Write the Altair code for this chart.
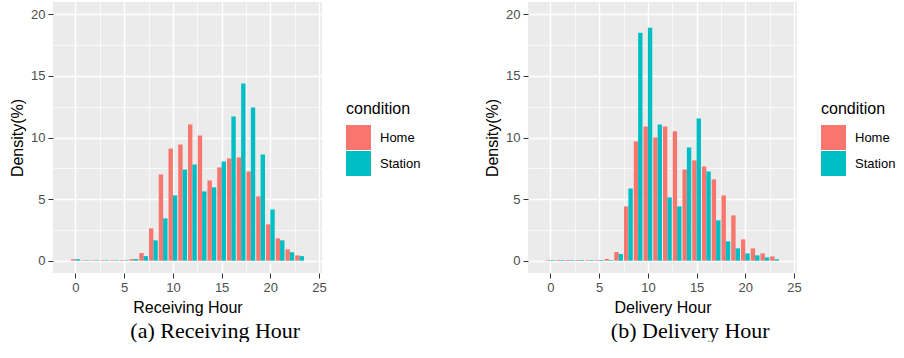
import altair as alt
import pandas as pd

hours = list(range(24))
conditions = ["Home", "Station"]
colors = ["#F8766D", "#00BFC4"]

receiving_home = [0.12, 0.04, 0.04, 0.04, 0.04, 0.04, 0.13, 0.62, 2.62, 7.0, 9.1, 9.43,
                  11.05, 10.16, 6.51, 7.57, 8.3, 8.38, 7.24, 5.22, 2.95, 1.81, 0.92, 0.43]
receiving_station = [0.12, 0.04, 0.04, 0.04, 0.04, 0.04, 0.13, 0.37, 1.65, 3.43, 5.3, 7.4,
                     7.81, 5.62, 5.95, 8.05, 11.7, 14.38, 12.43, 8.62, 4.16, 1.65, 0.68, 0.37]
delivery_home = [0.05, 0.05, 0.05, 0.05, 0.05, 0.05, 0.14, 0.7, 4.4, 9.68, 10.9, 10.0,
                 10.9, 10.5, 7.4, 8.14, 7.65, 6.6, 5.3, 3.68, 1.73, 1.0, 0.59, 0.35]
delivery_station = [0.05, 0.05, 0.05, 0.05, 0.05, 0.05, 0.05, 0.54, 5.86, 18.5, 18.9, 11.05,
                    5.14, 4.4, 9.19, 11.54, 7.24, 3.27, 1.57, 1.0, 0.59, 0.43, 0.27, 0.11]

x_ticks = [0, 2.5, 5, 7.5, 10, 12.5, 15, 17.5, 20, 22.5, 25]
y_ticks = [0, 2.5, 5, 7.5, 10, 12.5, 15, 17.5, 20]

major = "datum.value % 5 === 0"


def make_axis(values, title):
    return alt.Axis(
        values=values,
        title=title,
        labelExpr=f"{major} ? datum.label : ''",
        labelOverlap=False,
        gridWidth={"condition": {"test": major, "value": 1.4}, "value": 0.7},
        tickOpacity={"condition": {"test": major, "value": 1}, "value": 0},
    )


def panel(home, station, xtitle, caption):
    df = pd.DataFrame({
        "hour": hours + hours,
        "density": home + station,
        "condition": ["Home"] * len(hours) + ["Station"] * len(hours),
    })
    chart = alt.Chart(df).transform_calculate(
        x0="datum.hour + (datum.condition === 'Home' ? -0.45 : 0)",
        x1="datum.hour + (datum.condition === 'Home' ? 0 : 0.45)",
    ).mark_bar().encode(
        x=alt.X("x0:Q", scale=alt.Scale(domain=[-2.3, 25.3], nice=False, zero=False, padding=0),
                axis=make_axis(x_ticks, xtitle)),
        x2="x1:Q",
        y=alt.Y("density:Q", scale=alt.Scale(domain=[-1, 21], nice=False, padding=0),
                axis=make_axis(y_ticks, "Density(%)")),
        y2=alt.Y2(datum=0),
        color=alt.Color(
            "condition:N",
            scale=alt.Scale(domain=conditions, range=colors),
            legend=alt.Legend(
                title="condition", orient="none", legendX=293, legendY=99,
                symbolType="square", symbolSize=625, symbolStrokeWidth=0,
                symbolOpacity=1, labelOffset=9, rowPadding=1, titlePadding=8,
                titleFontSize=16, titleFontWeight="normal", titleColor="black",
                labelFontSize=13, labelColor="black",
                titleFont="Liberation Sans", labelFont="Liberation Sans",
            ),
        ),
    ).properties(
        width=269, height=271,
        title=alt.TitleParams(caption, orient="bottom", anchor="middle", frame="bounds",
                              font="Liberation Serif", fontSize=22, fontWeight="normal",
                              color="black", offset=6),
    )
    return chart


a = panel(receiving_home, receiving_station, "Receiving Hour", "(a) Receiving Hour")
b = panel(delivery_home, delivery_station, "Delivery Hour", "(b) Delivery Hour")

chart = alt.hconcat(a, b, spacing=63).resolve_scale(color="independent").resolve_legend(
    color="independent"
).properties(
    padding={"left": 9, "top": 2, "right": 0, "bottom": 0},
    background="white",
).configure_view(
    fill="#EBEBEB", strokeWidth=0
).configure_axis(
    domain=False, gridColor="white", tickColor="#333333", tickSize=5, tickWidth=1,
    labelColor="#4D4D4D", labelFontSize=13, labelFont="Liberation Sans", labelPadding=3,
    titleFont="Liberation Sans", titleFontSize=16, titleFontWeight="normal",
    titleColor="black", titlePadding=5,
)

chart.save("out.html", embed_options={"renderer": "svg", "actions": False})
